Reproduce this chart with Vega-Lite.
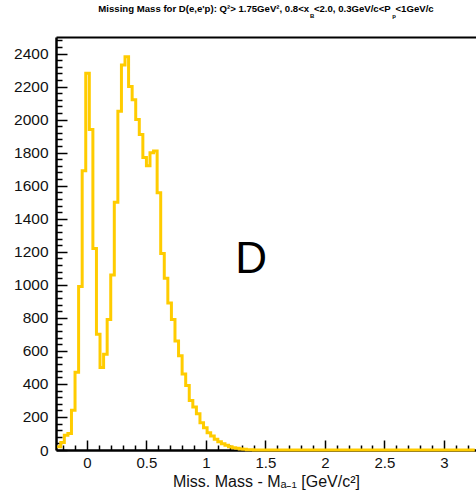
{
  "$schema": "https://vega.github.io/schema/vega-lite/v6.json",
  "width": 420,
  "height": 413,
  "autosize": {"type": "none"},
  "padding": {"left": 56, "top": 37, "right": 0, "bottom": 44},
  "background": "white",
  "title": {
    "text": "Missing Mass for D(e,e'p): Q²> 1.75GeV², 0.8<x\u2002<2.0, 0.3GeV/c<P\u2002<1GeV/c",
    "subtitle": "\u200b\u2003\u2003\u2003\u2003\u2003\u2003\u2003\u2003\u2003\u2003\u2003\u2003\u2003\u2003\u2003\u2003\u2003\u2003\u2003\u2003\u2003\u2003\u2003\u2003\u2003\u2003\u2003\u2003\u2003B\u2003\u2003\u2003\u2003\u2003\u2003\u2003\u2003\u2003\u2003\u2003\u2003\u2003p",
    "anchor": "middle",
    "frame": "group",
    "font": "Liberation Sans",
    "fontSize": 9.6,
    "fontWeight": "bold",
    "color": "black",
    "subtitleFont": "Liberation Sans",
    "subtitleFontSize": 6,
    "subtitleFontWeight": "bold",
    "subtitleColor": "black",
    "subtitlePadding": 0,
    "offset": 14
  },
  "data": {
    "values": [
      {"x": -0.25, "n": 20}, {"x": -0.22, "n": 45}, {"x": -0.19, "n": 90}, {"x": -0.16, "n": 100},
      {"x": -0.13, "n": 240}, {"x": -0.10, "n": 470}, {"x": -0.07, "n": 990}, {"x": -0.04, "n": 1690},
      {"x": -0.01, "n": 2280}, {"x": 0.02, "n": 1940}, {"x": 0.05, "n": 1220}, {"x": 0.08, "n": 700},
      {"x": 0.11, "n": 500}, {"x": 0.14, "n": 580}, {"x": 0.17, "n": 790}, {"x": 0.20, "n": 1060},
      {"x": 0.23, "n": 1500}, {"x": 0.26, "n": 2050}, {"x": 0.29, "n": 2330}, {"x": 0.32, "n": 2380},
      {"x": 0.35, "n": 2200}, {"x": 0.38, "n": 2120}, {"x": 0.41, "n": 2000}, {"x": 0.44, "n": 1910},
      {"x": 0.47, "n": 1770}, {"x": 0.50, "n": 1720}, {"x": 0.53, "n": 1800}, {"x": 0.56, "n": 1810},
      {"x": 0.59, "n": 1557}, {"x": 0.62, "n": 1190}, {"x": 0.65, "n": 1040}, {"x": 0.68, "n": 890},
      {"x": 0.71, "n": 790}, {"x": 0.74, "n": 660}, {"x": 0.77, "n": 570}, {"x": 0.80, "n": 460},
      {"x": 0.83, "n": 390}, {"x": 0.86, "n": 300}, {"x": 0.89, "n": 260}, {"x": 0.92, "n": 220},
      {"x": 0.95, "n": 165}, {"x": 0.98, "n": 135}, {"x": 1.01, "n": 105}, {"x": 1.04, "n": 85},
      {"x": 1.07, "n": 65}, {"x": 1.10, "n": 50}, {"x": 1.13, "n": 38}, {"x": 1.16, "n": 28},
      {"x": 1.19, "n": 20}, {"x": 1.22, "n": 14}, {"x": 1.25, "n": 10}, {"x": 1.28, "n": 6},
      {"x": 1.31, "n": 4}, {"x": 1.34, "n": 2}, {"x": 1.37, "n": 1}, {"x": 1.40, "n": 0},
      {"x": 1.43, "n": 0}, {"x": 1.46, "n": 0}, {"x": 1.49, "n": 0}, {"x": 1.52, "n": 0},
      {"x": 1.55, "n": 0}, {"x": 1.58, "n": 0}, {"x": 1.61, "n": 0}, {"x": 1.64, "n": 0},
      {"x": 1.67, "n": 0}, {"x": 1.70, "n": 0}, {"x": 1.73, "n": 0}, {"x": 1.76, "n": 0},
      {"x": 1.79, "n": 0}, {"x": 1.82, "n": 0}, {"x": 1.85, "n": 0}, {"x": 1.88, "n": 0},
      {"x": 1.91, "n": 0}, {"x": 1.94, "n": 0}, {"x": 1.97, "n": 0}, {"x": 2.00, "n": 0},
      {"x": 2.03, "n": 0}, {"x": 2.06, "n": 0}, {"x": 2.09, "n": 0}, {"x": 2.12, "n": 0},
      {"x": 2.15, "n": 0}, {"x": 2.18, "n": 0}, {"x": 2.21, "n": 0}, {"x": 2.24, "n": 0},
      {"x": 2.27, "n": 0}, {"x": 2.30, "n": 0}, {"x": 2.33, "n": 0}, {"x": 2.36, "n": 0},
      {"x": 2.39, "n": 0}, {"x": 2.42, "n": 0}, {"x": 2.45, "n": 0}, {"x": 2.48, "n": 0},
      {"x": 2.51, "n": 0}, {"x": 2.54, "n": 0}, {"x": 2.57, "n": 0}, {"x": 2.60, "n": 0},
      {"x": 2.63, "n": 0}, {"x": 2.66, "n": 0}, {"x": 2.69, "n": 0}, {"x": 2.72, "n": 0},
      {"x": 2.75, "n": 0}, {"x": 2.78, "n": 0}, {"x": 2.81, "n": 0}, {"x": 2.84, "n": 0},
      {"x": 2.87, "n": 0}, {"x": 2.90, "n": 0}, {"x": 2.93, "n": 0}, {"x": 2.96, "n": 0},
      {"x": 2.99, "n": 0}, {"x": 3.02, "n": 0}, {"x": 3.05, "n": 0}, {"x": 3.08, "n": 0},
      {"x": 3.11, "n": 0}, {"x": 3.14, "n": 0}, {"x": 3.17, "n": 0}, {"x": 3.20, "n": 0},
      {"x": 3.23, "n": 0}, {"x": 3.26, "n": 0}
    ]
  },
  "layer": [
    {
      "mark": {"type": "line", "interpolate": "step-after", "color": "#FFCC00", "strokeWidth": 3, "strokeJoin": "miter", "strokeCap": "butt"},
      "encoding": {
        "x": {
          "field": "x", "type": "quantitative",
          "scale": {"domain": [-0.26, 3.27], "nice": false, "zero": false},
          "axis": {
            "orient": "bottom",
            "values": [-0.2, -0.1, 0, 0.1, 0.2, 0.3, 0.4, 0.5, 0.6, 0.7, 0.8, 0.9, 1, 1.1, 1.2, 1.3, 1.4, 1.5, 1.6, 1.7, 1.8, 1.9, 2, 2.1, 2.2, 2.3, 2.4, 2.5, 2.6, 2.7, 2.8, 2.9, 3, 3.1, 3.2],
            "tickCount": 1000,
            "labelExpr": "abs(datum.value*2 - round(datum.value*2)) < 0.001 ? format(datum.value, '~g') : ''",
            "tickSize": -10,
            "tickDash": {"condition": {"test": "abs(datum.value*2 - round(datum.value*2)) < 0.001", "value": [10, 0]}, "value": [5, 50]},
            "tickColor": "black", "tickWidth": 1.5,
            "domainColor": "black", "domainWidth": 2.5,
            "labelFont": "Liberation Sans", "labelFontSize": 15, "labelColor": "#111111",
            "labelPadding": 15, "labelOverlap": false, "labelFlush": false, "labelBound": false,
            "grid": false,
            "title": "Miss. Mass - Mₐ₋₁ [GeV/c²]",
            "titleFont": "Liberation Sans", "titleFontSize": 16, "titleFontWeight": "normal", "titleColor": "#111111",
            "titlePadding": 3
          }
        },
        "y": {
          "field": "n", "type": "quantitative",
          "scale": {"domain": [0, 2500], "nice": false},
          "axis": {
            "orient": "left",
            "values": [0,40,80,120,160,200,240,280,320,360,400,440,480,520,560,600,640,680,720,760,800,840,880,920,960,1000,1040,1080,1120,1160,1200,1240,1280,1320,1360,1400,1440,1480,1520,1560,1600,1640,1680,1720,1760,1800,1840,1880,1920,1960,2000,2040,2080,2120,2160,2200,2240,2280,2320,2360,2400,2440,2480],
            "tickCount": 1000,
            "format": "d",
            "labelExpr": "datum.value % 200 === 0 ? datum.label : ''",
            "tickSize": -11,
            "tickDash": {"condition": {"test": "datum.value % 200 === 0", "value": [11, 0]}, "value": [6, 50]},
            "tickColor": "black", "tickWidth": 1.5,
            "domainColor": "black", "domainWidth": 2.5,
            "labelFont": "Liberation Sans", "labelFontSize": 15.5, "labelColor": "#111111",
            "labelPadding": 19, "labelOverlap": false, "labelBound": false,
            "grid": false, "title": null
          }
        }
      }
    },
    {
      "data": {"values": [{"label": "D"}]},
      "mark": {"type": "text", "fontSize": 44, "font": "Liberation Sans", "color": "black", "align": "center", "baseline": "middle"},
      "encoding": {
        "x": {"datum": 1.38, "type": "quantitative", "axis": {"orient": "top", "labels": false, "ticks": false, "title": null, "grid": false, "domainColor": "black", "domainWidth": 2}},
        "y": {"datum": 1150, "type": "quantitative"},
        "text": {"field": "label"}
      }
    }
  ],
  "config": {"view": {"stroke": null}}
}
